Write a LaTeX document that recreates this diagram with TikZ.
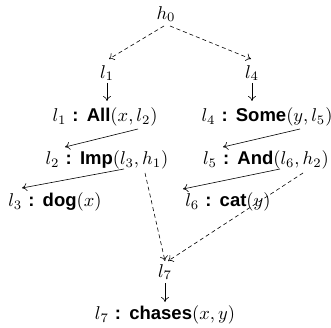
\documentclass[tikz,border=0pt]{standalone}
\usepackage{fontspec}
\newfontfamily\hv{Liberation Sans}
\usetikzlibrary{calc,arrows.meta}
\newcommand{\kw}[1]{{\hv\bfseries #1}}
\newcommand{\cl}{\kw{:}}
\begin{document}
\begin{tikzpicture}[x=1pt,y=1pt,
  lbl/.style={inner sep=0pt, scale=1.85},
  arr/.style={-{To[length=5pt,width=8pt]}, line width=0.6pt},
  darr/.style={arr, dash pattern=on 4pt off 3pt}]
\useasboundingbox (0,0) rectangle (331,-328);
\node[lbl] (h0) at (166,-14) {$h_0$};
\node[lbl] (l1) at (107,-73) {$l_1$};
\node[lbl] (l4) at (252,-73) {$l_4$};
\node[lbl] (all) at (105,-117) {$l_1$ \cl{} \kw{All}$(x,l_2)$};
\node[lbl] (some) at (267,-117) {$l_4$ \cl{} \kw{Some}$(y,l_5)$};
\node[lbl] (imp) at (107,-160) {$l_2$ \cl{} \kw{Imp}$(l_3,h_1)$};
\node[lbl] (and) at (266,-160) {$l_5$ \cl{} \kw{And}$(l_6,h_2)$};
\node[lbl] (dog) at (55,-202) {$l_3$ \cl{} \kw{dog}$(x)$};
\node[lbl] (cat) at (228,-202) {$l_6$ \cl{} \kw{cat}$(y)$};
\node[lbl] (l7) at (165,-272) {$l_7$};
\node[lbl] (chases) at (165,-315) {$l_7$ \cl{} \kw{chases}$(x,y)$};
\draw[darr] ($(h0)+(-2,-12)$) -- ($(l1)+(2,14)$);
\draw[darr] ($(h0)+(4,-12)$) -- ($(l4)+(-1,14)$);
\draw[arr] ($(l1)+(0,-10)$) -- ($(all)+(2,16)$);
\draw[arr] ($(l4)+(0,-10)$) -- ($(some)+(-15,16)$);
\draw[arr] ($(all)+(33,-12)$) -- ($(imp)+(-42,13)$);
\draw[arr] ($(some)+(33,-12)$) -- ($(and)+(-43,13)$);
\draw[arr] ($(imp)+(17,-9)$) -- ($(dog)+(-33,14)$);
\draw[arr] ($(and)+(14,-9)$) -- ($(cat)+(-45,13)$);
\draw[darr] ($(imp)+(38,-13)$) -- ($(l7)+(0,11)$);
\draw[darr] ($(and)+(37,-13)$) -- ($(l7)+(3,11)$);
\draw[arr] ($(l7)+(0,-11)$) -- ($(chases)+(0,13)$);
\end{tikzpicture}
\end{document}
